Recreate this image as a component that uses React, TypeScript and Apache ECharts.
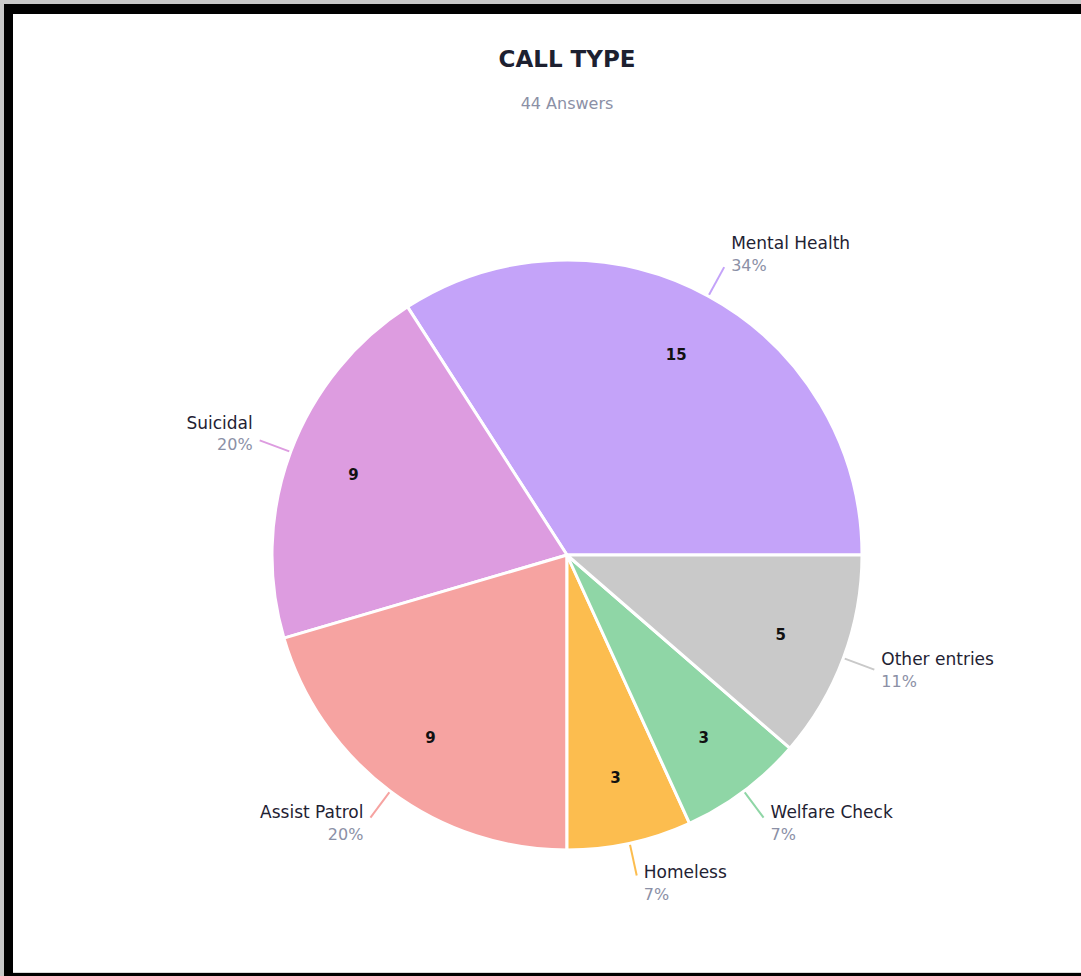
import React, { useEffect, useRef } from "react";
import * as echarts from "echarts";

const categories = ["Mental Health", "Suicidal", "Assist Patrol", "Homeless", "Welfare Check", "Other entries"];
const counts = [15, 9, 9, 3, 3, 5];
const colors = ["#c4a3f9", "#dd9ce0", "#f6a3a1", "#fcbd4f", "#8fd6a6", "#c9c9c9"];
const titleText = "CALL TYPE";
const subtitleText = "44 Answers";

const FONT = "'DejaVu Sans', 'Noto Sans', sans-serif";

export default function App() {
  const ref = useRef<HTMLDivElement>(null);
  useEffect(() => {
    document.body.style.margin = "0";
    document.documentElement.style.overflow = "hidden";
    const chart = echarts.init(ref.current!, null, { renderer: "svg" });
    const total = counts.reduce((a, b) => a + b, 0);
    const midSin = (idx: number) => {
      let before = 0;
      for (let i = 0; i < idx; i++) before += counts[i];
      const mid = ((before + counts[idx] / 2) / total) * Math.PI * 2;
      return Math.sin(mid);
    };
    const data = categories.map((name, i) => ({
      name,
      value: counts[i],
      itemStyle: { color: colors[i] },
    }));
    const overlay = categories.map((name, i) => ({
      name,
      value: counts[i],
      itemStyle: { color: "rgba(0,0,0,0)" },
    }));
    chart.setOption({
      animation: false,
      graphic: [
        {
          type: "text",
          x: 567,
          y: 59,
          style: {
            text: titleText,
            align: "center",
            verticalAlign: "middle",
            fontFamily: FONT,
            fontSize: 23,
            fontWeight: "bold",
            fill: "#1d2030",
          },
        },
        {
          type: "text",
          x: 567,
          y: 103,
          style: {
            text: subtitleText,
            align: "center",
            verticalAlign: "middle",
            fontFamily: FONT,
            fontSize: 16,
            fill: "#8b90a6",
          },
        },
      ],
      series: [
        {
          type: "pie",
          center: [567, 555],
          radius: [0, 295],
          startAngle: 0,
          clockwise: false,
          avoidLabelOverlap: false,
          data,
          itemStyle: { borderColor: "#ffffff", borderWidth: 3 },
          label: {
            show: true,
            position: "outside",
            distanceToLabelLine: 7,
            formatter: (p: any) => `{n|${p.name}}\n{p|${Math.round(p.percent)}%}`,
            rich: {
              n: { fontFamily: FONT, fontSize: 17, color: "#1f2233", lineHeight: 22 },
              p: { fontFamily: FONT, fontSize: 16, color: "#8b90a6", lineHeight: 22 },
            },
          },
          labelLine: { show: true, length: 33, length2: 0, smooth: false, lineStyle: { width: 2 } },
          labelLayout: (params: any) => ({
            dy: -3 - 11 * midSin(params.dataIndex),
            labelLinePoints: params.labelLinePoints,
          }),
          emphasis: { disabled: true },
        },
        {
          type: "pie",
          center: [567, 555],
          radius: [155, 295],
          startAngle: 0,
          clockwise: false,
          silent: true,
          data: overlay,
          itemStyle: { borderWidth: 0 },
          label: {
            show: true,
            position: "inside",
            formatter: "{c}",
            fontFamily: FONT,
            fontSize: 15,
            fontWeight: "bold",
            color: "#111111",
          },
          labelLine: { show: false },
          emphasis: { disabled: true },
        },
      ],
    });
    return () => chart.dispose();
  }, []);

  return (
    <div style={{ position: "absolute", left: 0, top: 0, width: 1081, height: 976, background: "#c8c8c8", overflow: "hidden" }}>
      <div style={{ position: "absolute", left: 4, top: 4, width: 1200, height: 972, background: "#000" }} />
      <div style={{ position: "absolute", left: 13, top: 14, width: 1200, height: 958, background: "#fff", borderBottom: "1px solid #d8d8d8" }} />
      <div ref={ref} style={{ position: "absolute", left: 0, top: 0, width: 1081, height: 976 }} />
    </div>
  );
}
